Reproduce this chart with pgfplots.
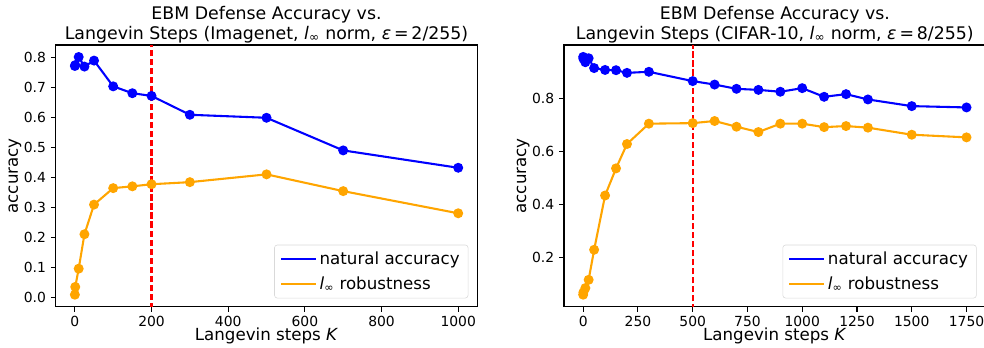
\documentclass[border=0pt]{standalone}
\usepackage{fontspec}
\setmainfont{DejaVu Sans}
\usepackage{pgfplots}
\pgfplotsset{compat=1.18}
\definecolor{mplblue}{RGB}{0,0,255}
\definecolor{mplorange}{RGB}{255,165,0}
\pgfplotsset{
  myax/.style={
    scale only axis, width=303.6pt, height=188.4pt,
    axis line style={black, line width=0.8pt},
    every tick/.style={black, line width=0.8pt},
    tick align=outside, major tick length=3.5pt,
    xtick pos=bottom, ytick pos=left,
    tick label style={font=\fontsize{10}{12}\selectfont},
    label style={font=\fontsize{12}{14}\selectfont},
    xlabel style={yshift=6pt},
    ylabel style={yshift=-5pt},
    title style={font=\fontsize{12.5}{14.5}\selectfont, align=center, at={(0.5,1)}, anchor=south, yshift=-8pt},
    /pgf/number format/assume math mode=true,
    /pgf/number format/set thousands separator={},
    ylabel=accuracy,
    xlabel={Langevin steps \textit{K}},
    legend cell align=left,
    legend style={at={(1,0)}, anchor=south east, xshift=-6.5pt, yshift=6pt,
      draw=black!15, rounded corners=2pt, font=\fontsize{12}{14}\selectfont,
      inner xsep=4pt, inner ysep=3pt, row sep=3pt},
    legend image code/.code={\draw[#1, mark=none] (0pt,0pt) -- (25pt,0pt);},
  },
  nat/.style={mplblue, line width=1.5pt, mark=*, mark size=2.8pt, mark options={solid}},
  rob/.style={mplorange, line width=1.5pt, mark=*, mark size=2.8pt, mark options={solid}},
  vl/.style={color=red, dashed, line width=1.5pt, dash pattern=on 4.5pt off 2pt, forget plot},
}
\begin{document}
\begin{tikzpicture}
\begin{axis}[myax,
  at={(40.1pt,29.74pt)}, anchor=south west,
  title={EBM Defense Accuracy vs.\\Langevin Steps (Imagenet, \textit{l}\textsubscript{∞} norm, \textit{ε}\,=\,2/255)},
  xmin=-50, xmax=1050, ymin=-0.032, ymax=0.842,
  xtick={0,200,400,600,800,1000},
  ytick={0,0.1,0.2,0.3,0.4,0.5,0.6,0.7,0.8},
  yticklabel style={/pgf/number format/.cd, fixed, fixed zerofill, precision=1},
]
\addplot[vl] coordinates {(200,-0.1) (200,1)};
\addplot[nat] coordinates {(0,0.772) (1,0.775) (10,0.802) (25,0.770) (50,0.790) (100,0.704) (150,0.681) (200,0.672) (300,0.609) (500,0.599) (700,0.490) (1000,0.432)};
\addlegendentry{natural accuracy}
\addplot[rob] coordinates {(0,0.008) (1,0.034) (10,0.095) (25,0.210) (50,0.309) (100,0.364) (150,0.370) (200,0.377) (300,0.384) (500,0.410) (700,0.354) (1000,0.280)};
\addlegendentry{\textit{l}\textsubscript{∞} robustness}
\end{axis}
\begin{axis}[myax,
  at={(406.08pt,29.74pt)}, anchor=south west,
  title={EBM Defense Accuracy vs.\\Langevin Steps (CIFAR-10, \textit{l}\textsubscript{∞} norm, \textit{ε}\,=\,8/255)},
  xmin=-87.5, xmax=1837.5, ymin=0.016, ymax=0.9997,
  xtick={0,250,500,750,1000,1250,1500,1750},
  ytick={0.2,0.4,0.6,0.8},
  yticklabel style={/pgf/number format/.cd, fixed, fixed zerofill, precision=1},
]
\addplot[vl] coordinates {(500,-0.1) (500,1.1)};
\addplot[nat] coordinates {(0,0.955) (1,0.948) (10,0.935) (25,0.950) (50,0.913) (100,0.906) (150,0.905) (200,0.895) (300,0.899) (500,0.864) (600,0.851) (700,0.835) (800,0.831) (900,0.824) (1000,0.8375) (1100,0.805) (1200,0.815) (1300,0.795) (1500,0.770) (1750,0.765)};
\addlegendentry{natural accuracy}
\addplot[rob] coordinates {(0,0.061) (1,0.070) (10,0.086) (25,0.117) (50,0.230) (100,0.434) (150,0.536) (200,0.6275) (300,0.704) (500,0.706) (600,0.714) (700,0.6925) (800,0.6725) (900,0.704) (1000,0.704) (1100,0.691) (1200,0.695) (1300,0.689) (1500,0.6625) (1750,0.6525)};
\addlegendentry{\textit{l}\textsubscript{∞} robustness}
\end{axis}
\pgfresetboundingbox
\useasboundingbox (0,0) rectangle (708.48pt,250.56pt);
\end{tikzpicture}
\end{document}
